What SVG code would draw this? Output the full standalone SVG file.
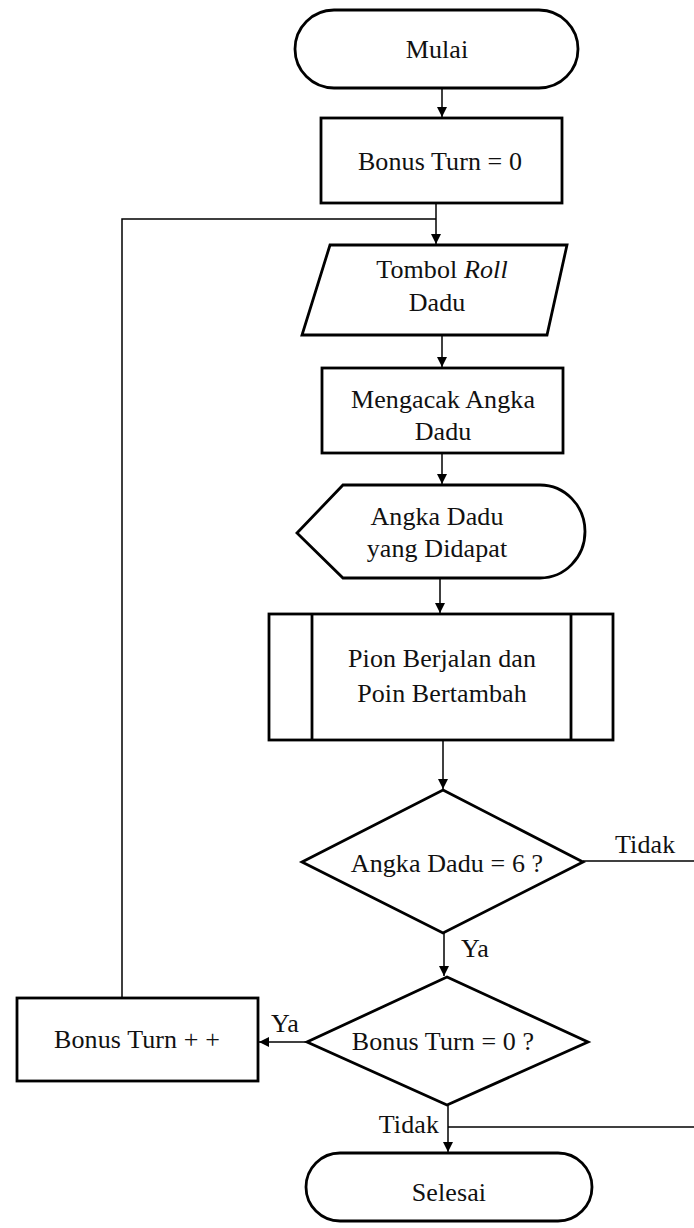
<svg xmlns="http://www.w3.org/2000/svg" width="694" height="1228" viewBox="0 0 694 1228">
<style>
.s{fill:#fff;stroke:#000;stroke-width:2.8}
.c{fill:none;stroke:#000;stroke-width:1.5}
.t{font-size:26px;fill:#111;letter-spacing:0.1px}
.m{text-anchor:middle}
</style>
<defs>
<marker id="a" viewBox="0 0 10 10" refX="10" refY="5" markerWidth="10" markerHeight="10" markerUnits="userSpaceOnUse" orient="auto">
<path d="M0,0 L10,5 L0,10 Z" fill="#000"/>
</marker>
</defs>
<rect width="694" height="1228" fill="#fff"/>
<g font-family="'Liberation Serif', 'DejaVu Serif', serif">
<g id="connectors">
<path class="c" d="M442,88 V117" marker-end="url(#a)"/>
<path class="c" d="M436,203 V244" marker-end="url(#a)"/>
<path class="c" d="M122,998 V219 H436"/>
<path class="c" d="M442,335 V367" marker-end="url(#a)"/>
<path class="c" d="M442,453 V484" marker-end="url(#a)"/>
<path class="c" d="M440,578 V613" marker-end="url(#a)"/>
<path class="c" d="M443,740 V789" marker-end="url(#a)"/>
<path class="c" d="M583,861 H694"/>
<path class="c" d="M444,933 V976" marker-end="url(#a)"/>
<path class="c" d="M307,1042 H259" marker-end="url(#a)"/>
<path class="c" d="M448,1105 V1152" marker-end="url(#a)"/>
<path class="c" d="M448,1127 H694"/>
<text class="t" x="615" y="853">Tidak</text>
<text class="t" x="461" y="957">Ya</text>
<text class="t" x="271" y="1032">Ya</text>
<text class="t" x="439" y="1133" text-anchor="end">Tidak</text>
</g>
<g id="mulai">
<rect class="s" x="295" y="10" width="283" height="78" rx="39"/>
<text class="t m" x="437" y="58">Mulai</text>
</g>
<g id="init">
<rect class="s" x="321" y="118" width="241" height="85"/>
<text class="t m" x="440" y="170">Bonus Turn = 0</text>
</g>
<g id="input">
<polygon class="s" points="330,245 567,245 547,335 302,335"/>
<text class="t m" x="442" y="278">Tombol <tspan font-style="italic">Roll</tspan></text>
<text class="t m" x="437" y="311">Dadu</text>
</g>
<g id="acak">
<rect class="s" x="322" y="368" width="241" height="85"/>
<text class="t m" x="443" y="408">Mengacak Angka</text>
<text class="t m" x="443" y="440">Dadu</text>
</g>
<g id="display">
<path class="s" d="M297,533 L343,485 L540,485 A45,46.5 0 0 1 540,578 L343,578 Z"/>
<text class="t m" x="437" y="525">Angka Dadu</text>
<text class="t m" x="437" y="557">yang Didapat</text>
</g>
<g id="pion">
<rect class="s" x="269" y="614" width="344" height="126"/>
<line class="s" x1="312" y1="614" x2="312" y2="740"/>
<line class="s" x1="571" y1="614" x2="571" y2="740"/>
<text class="t m" x="442" y="667">Pion Berjalan dan</text>
<text class="t m" x="442" y="702">Poin Bertambah</text>
</g>
<g id="cek6">
<polygon class="s" points="443,790 583,862 443,933 302,862"/>
<text class="t m" x="447" y="872" letter-spacing="-0.6">Angka Dadu = 6 ?</text>
</g>
<g id="cekbonus">
<polygon class="s" points="447,977 588,1042 447,1105 307,1042"/>
<text class="t m" x="443" y="1050" letter-spacing="-0.6">Bonus Turn = 0 ?</text>
</g>
<g id="bonusinc">
<rect class="s" x="17" y="998" width="241" height="83"/>
<text class="t m" x="137" y="1048">Bonus Turn + +</text>
</g>
<g id="selesai">
<rect class="s" x="306" y="1153" width="286" height="68" rx="34"/>
<text class="t m" x="449" y="1201">Selesai</text>
</g>
</g>
</svg>
